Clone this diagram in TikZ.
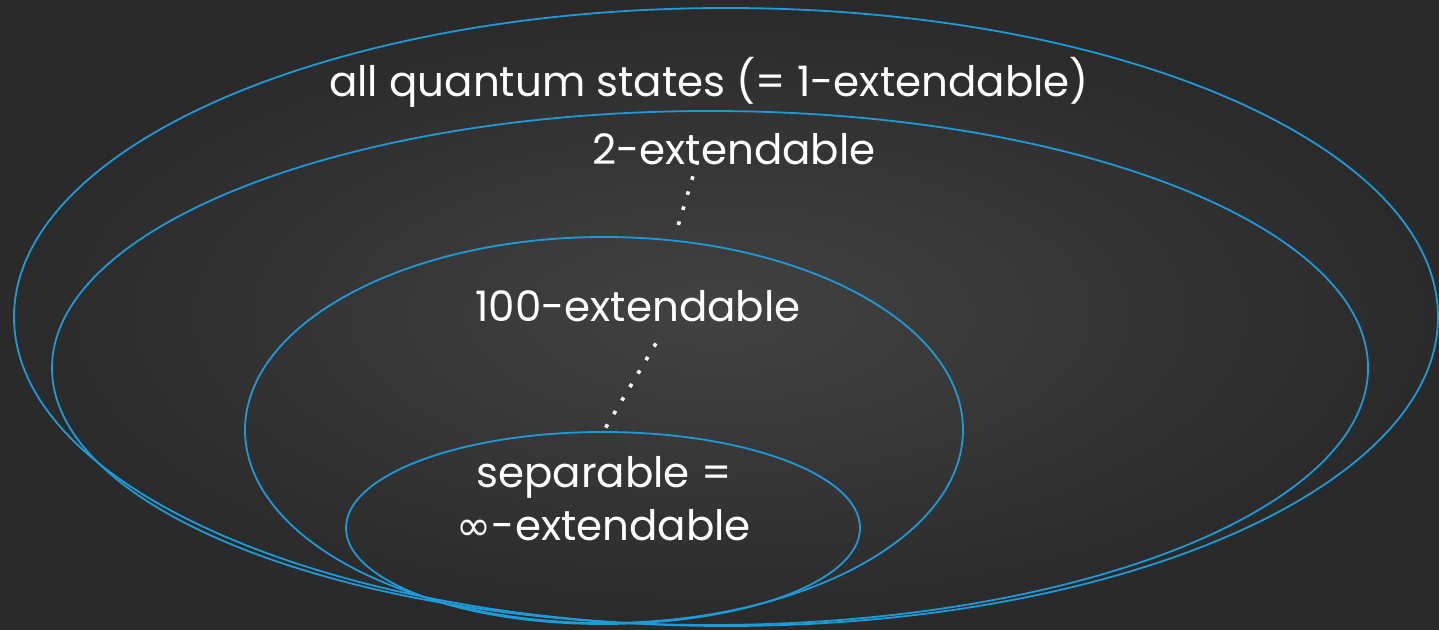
\documentclass[tikz,border=0pt]{standalone}
\usepackage{fontspec}
\setmainfont{Poppins}
\newfontfamily\symfont{DejaVu Sans}
\definecolor{bgin}{HTML}{424242}
\definecolor{bgout}{HTML}{2A2A2A}
\definecolor{ringblue}{HTML}{1C9BD8}
\tikzset{
  ring/.style={draw=ringblue, line width=0.9pt},
  lbl/.style={text=white, anchor=base, inner sep=0pt, font=\fontsize{21}{24}\selectfont},
  dotline/.style={draw=white, line width=1.8pt, line cap=rect, dash pattern=on 0.01pt off 7.85pt},
}
\begin{document}
\begin{tikzpicture}[x=0.5pt,y=-0.5pt]
\useasboundingbox (0,0) rectangle (1439,630);
\shade[inner color=bgin, outer color=bgout] (0,0) rectangle (1439,630);
% ellipses
\draw[ring] (726,317) ellipse [x radius=712, y radius=309];
\draw[ring] (710,368) ellipse [x radius=658, y radius=257];
\draw[ring] (604,430) ellipse [x radius=359, y radius=193];
\draw[ring] (603,528) ellipse [x radius=257, y radius=96];
% labels
\node[lbl] (all) at (709,97) {all quantum states (= 1-extendable)};
\node[lbl] (two) at (734,165) {2-extendable};
\node[lbl] (hundred) at (638,322) {100-extendable};
\node[lbl] (sep) at (604,487) {separable =};
\node[lbl] (inf) at (604,540) {{\symfont ∞}-extendable};
% dotted connectors
\coordinate (d1a) at (697,163);
\coordinate (d1b) at (678,226);
\coordinate (d2a) at (655,345);
\coordinate (d2b) at (606,427);
\draw[dotline] (d1a) -- (d1b);
\draw[dotline] (d2a) -- (d2b);
\end{tikzpicture}
\end{document}
